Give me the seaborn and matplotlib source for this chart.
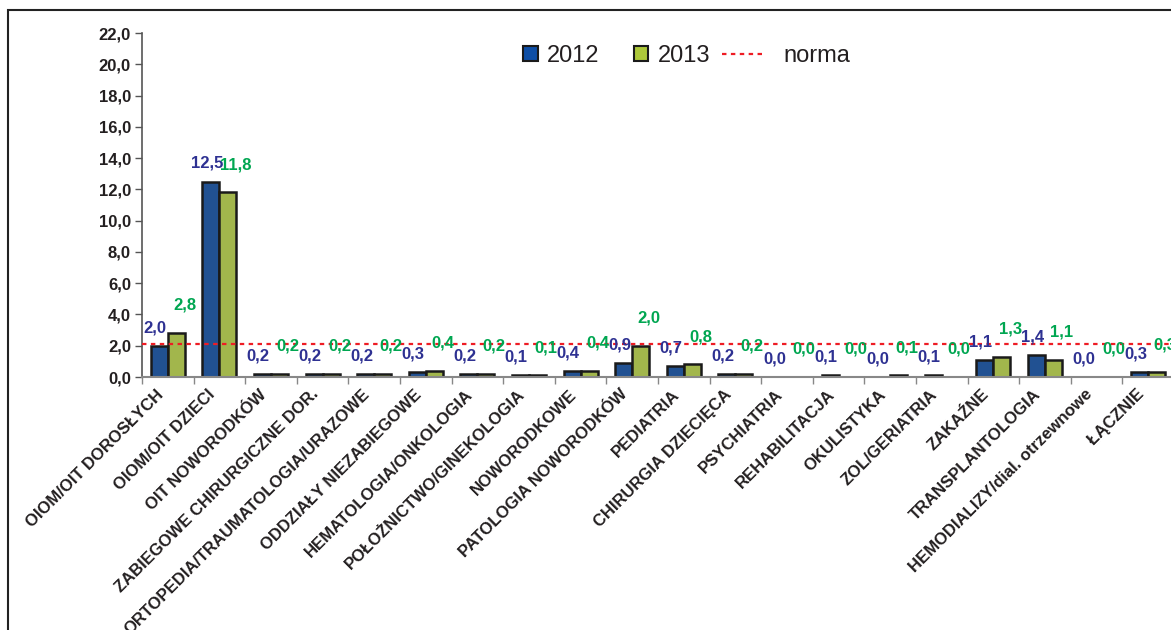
import matplotlib
matplotlib.use("Agg")
import matplotlib.pyplot as plt
import matplotlib.transforms as mtransforms
from matplotlib.patches import Patch, Rectangle
from matplotlib.lines import Line2D
import seaborn as sns
import pandas as pd

# data
categories = [
    "OIOM/OIT DOROSŁYCH", "OIOM/OIT DZIECI", "OIT NOWORODKÓW",
    "ZABIEGOWE CHIRURGICZNE DOR.", "ORTOPEDIA/TRAUMATOLOGIA/URAZOWE",
    "ODDZIAŁY NIEZABIEGOWE", "HEMATOLOGIA/ONKOLOGIA", "POŁOŻNICTWO/GINEKOLOGIA",
    "NOWORODKOWE", "PATOLOGIA NOWORODKÓW", "PEDIATRIA", "CHIRURGIA DZIECIĘCA",
    "PSYCHIATRIA", "REHABILITACJA", "OKULISTYKA", "ZOL/GERIATRIA", "ZAKAŹNE",
    "TRANSPLANTOLOGIA", "HEMODIALIZY/dial. otrzewnowe", "ŁĄCZNIE",
]
vals_2012 = [2.0, 12.5, 0.2, 0.2, 0.2, 0.3, 0.2, 0.1, 0.4, 0.9,
             0.7, 0.2, 0.0, 0.1, 0.0, 0.1, 1.1, 1.4, 0.0, 0.3]
vals_2013 = [2.8, 11.8, 0.2, 0.2, 0.2, 0.4, 0.2, 0.1, 0.4, 2.0,
             0.8, 0.2, 0.0, 0.0, 0.1, 0.0, 1.3, 1.1, 0.0, 0.3]
years = ["2012", "2013"]
norma = 2.1
yticks = [0, 2, 4, 6, 8, 10, 12, 14, 16, 18, 20, 22]

blue = "#0e4ea5"
green = "#adc83a"
blue_txt = "#2e3192"
green_txt = "#00a651"
red = "#ee1c24"
dark = "#231f20"

df = pd.DataFrame({
    "kategoria": categories * 2,
    "rok": [years[0]] * len(categories) + [years[1]] * len(categories),
    "wartosc": vals_2012 + vals_2013,
})

sns.set_style("white")
plt.rcParams["font.family"] = ["Liberation Sans", "DejaVu Sans"]

fig = plt.figure(figsize=(11.71, 6.30), dpi=100)
ax = fig.add_axes([142 / 1171, 1 - 377 / 630, 1032 / 1171, 344 / 630])

sns.barplot(data=df, x="kategoria", y="wartosc", hue="rok",
            palette=[blue, green], width=0.66, edgecolor="#1a1a1a",
            linewidth=1.8, legend=False, ax=ax)

ax.set_xlim(-0.5, len(categories) - 0.5)
ax.set_ylim(0, 22)
ax.set_yticks(yticks)
ax.set_yticklabels([f"{t:.1f}".replace(".", ",") for t in yticks],
                   fontsize=12, fontweight="bold", color=dark)
ax.tick_params(axis="y", direction="out", length=5, width=1, color="#555555",
               left=True, pad=3)
ax.set_xlabel("")
ax.set_ylabel("")

# category labels at centres, tick marks between categories
ax.set_xticks(range(len(categories)))
ax.set_xticklabels(categories, rotation=45, ha="right", va="top",
                   rotation_mode="anchor", fontsize=12, fontweight="bold",
                   color=dark)
ax.tick_params(axis="x", length=0, pad=7)
ax.set_xticks([i + 0.5 for i in range(len(categories) - 1)] + [-0.5], minor=True)
ax.tick_params(axis="x", which="minor", bottom=True, direction="out",
               length=5, width=1, color="#888888")
shift = mtransforms.ScaledTranslation(-12 / 100, 0, fig.dpi_scale_trans)
for lbl in ax.get_xticklabels():
    lbl.set_transform(lbl.get_transform() + shift)

for side in ["top", "right"]:
    ax.spines[side].set_visible(False)
ax.spines["left"].set_color("#555555")
ax.spines["bottom"].set_color("#888888")
ax.spines["left"].set_linewidth(1.2)
ax.spines["bottom"].set_linewidth(1.5)

# norma line
ax.axhline(norma, color=red, linestyle=(0, (2, 2)), linewidth=1.6, zorder=5)

# value labels
for cont, col, dx, dy in [(ax.containers[0], blue_txt, -3, 13),
                          (ax.containers[1], green_txt, 6, 20)]:
    for bar in cont:
        h = bar.get_height()
        ax.annotate(f"{h:.1f}".replace(".", ","),
                    (bar.get_x() + bar.get_width() / 2, h),
                    xytext=(dx, dy), textcoords="offset points",
                    ha="center", va="center", fontsize=12,
                    fontweight="bold", color=col, zorder=6)

# legend: bars and norma line as two pieces so the line handle can be longer
bar_handles = [
    Patch(facecolor=blue, edgecolor="#1a1a1a", linewidth=1.5, label="2012"),
    Patch(facecolor=green, edgecolor="#1a1a1a", linewidth=1.5, label="2013"),
]
fig.legend(handles=bar_handles, loc="center left",
           bbox_to_anchor=(523 / 1171, 1 - 56 / 630), ncol=2,
           frameon=False, fontsize=17, borderpad=0, borderaxespad=0,
           handlelength=0.62, handleheight=0.62, columnspacing=1.45,
           handletextpad=0.4, labelcolor=dark)
line_handle = [Line2D([0], [0], color=red, linestyle=(0, (2, 2)),
                      linewidth=1.6, label="norma")]
fig.legend(handles=line_handle, loc="center left",
           bbox_to_anchor=(722 / 1171, 1 - 56 / 630), frameon=False,
           fontsize=17, borderpad=0, borderaxespad=0, handlelength=1.8,
           handletextpad=0.8, labelcolor=dark)

# outer frame (clipped on right and bottom like the source)
fig.add_artist(Rectangle((8 / 1171, -0.05), 1.2, 1 - 10 / 630 + 0.05,
                         transform=fig.transFigure, fill=False,
                         edgecolor="#222222", linewidth=1.5))

fig.savefig("out.png", dpi=100)
